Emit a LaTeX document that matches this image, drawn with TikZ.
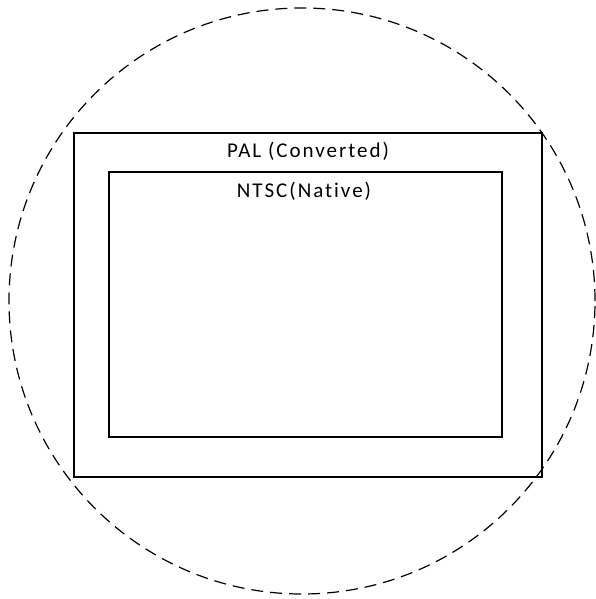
\documentclass[tikz,border=0pt]{standalone}
\usepackage{fontspec}
\setmainfont{Carlito}[Ligatures=NoCommon]
\begin{document}
\begin{tikzpicture}
[x=1pt,y=-1pt,
  boxDecorate/.style={shape=rectangle,draw,line width=1.4pt,inner sep=0pt,outer sep=0pt},%
  ringDecorate/.style={shape=circle,draw,line width=1.2pt,dash pattern=on 12pt off 7pt,inner sep=0pt},%
  textDecorate/.style={anchor=base,inner sep=0pt,font=\fontsize{21}{25}\selectfont\addfontfeature{LetterSpace=9.5}}]
\useasboundingbox (0,0) rectangle (595,599);
%% dashed ring
\node (ring) at (302,301) [ringDecorate,minimum size=586pt] {};
%% frames
\node (pal) at (308,305) [boxDecorate,minimum width=468pt,minimum height=344pt] {};
\node (ntsc) at (305.5,304.5) [boxDecorate,minimum width=393pt,minimum height=265pt] {};
%% labels
\node (palText) at (308,157) [textDecorate] {PAL (Converted)};
\node (ntscText) at (304,197) [textDecorate] {NTSC(Native)};
\end{tikzpicture}
\end{document}
